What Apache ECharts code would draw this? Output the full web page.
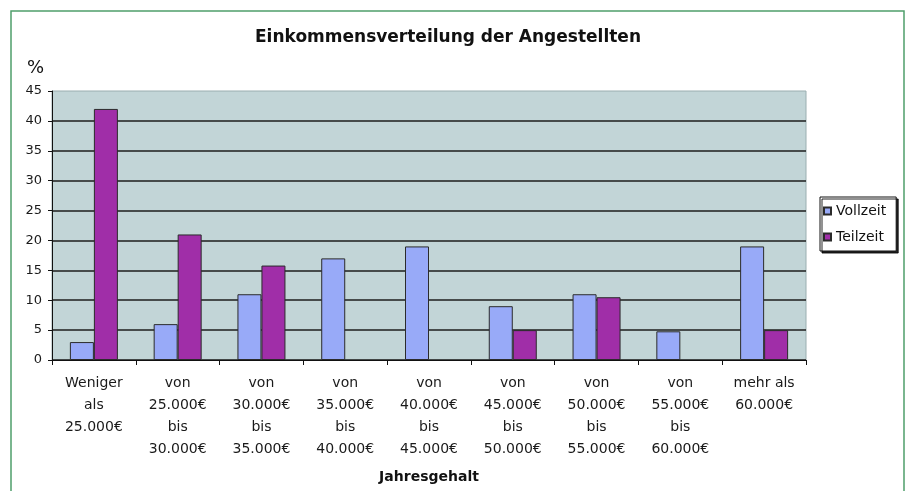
<!DOCTYPE html>
<html>
<head>
<meta charset="utf-8">
<script src="https://cdn.jsdelivr.net/npm/echarts@6/dist/echarts.min.js"></script>
<style>
  html, body { margin: 0; padding: 0; background: #ffffff; }
  #chart { width: 908px; height: 491px; }
</style>
</head>
<body>
<div id="chart"></div>
<script>
// Income brackets (annual salary) and share of employees in percent
var categories = [
  'Weniger\nals\n25.000€',
  'von\n25.000€\nbis\n30.000€',
  'von\n30.000€\nbis\n35.000€',
  'von\n35.000€\nbis\n40.000€',
  'von\n40.000€\nbis\n45.000€',
  'von\n45.000€\nbis\n50.000€',
  'von\n50.000€\nbis\n55.000€',
  'von\n55.000€\nbis\n60.000€',
  'mehr als\n60.000€'
];
var vollzeit = [3, 6, 11, 17, 19, 9, 11, 4.8, 19];
var teilzeit = [42, 21, 15.8, 0, 0, 5, 10.5, 0, 5];
var seriesNames = ['Vollzeit', 'Teilzeit'];
var yTicks = { min: 0, max: 45, interval: 5 };

var FONT = 'DejaVu Sans';
var chart = echarts.init(document.getElementById('chart'), null, { renderer: 'canvas' });

// a share of 0 % gets no visible column at all
var asBars = function (values) {
  return values.map(function (v) { return v === 0 ? '-' : v; });
};
var barStyle = function (color) {
  return { color: color, borderColor: '#2b2b2b', borderWidth: 1 };
};

chart.setOption({
  animation: false,
  backgroundColor: '#ffffff',
  title: [
    {
      text: 'Einkommensverteilung der Angestellten',
      left: 443, top: 24, textAlign: 'center',
      textStyle: { fontFamily: FONT, fontSize: 17, fontWeight: 'bold', color: '#111' }
    },
    {
      text: '%',
      left: 22, top: 54,
      textStyle: { fontFamily: FONT, fontSize: 18, fontWeight: 'normal', color: '#111' }
    }
  ],
  graphic: [
    {
      type: 'rect', silent: true, z: -1,
      shape: { x: 11, y: 11, width: 893, height: 490 },
      style: { fill: 'none', stroke: '#4f9f6b', lineWidth: 1.5 }
    }
  ],
  legend: {
    orient: 'vertical',
    left: 820, top: 197,
    data: seriesNames,
    icon: 'rect',
    itemWidth: 7, itemHeight: 7, itemGap: 10,
    padding: [6, 10, 6, 3],
    backgroundColor: '#ffffff',
    borderColor: '#111', borderWidth: 1,
    shadowColor: 'rgba(0,0,0,0.85)', shadowBlur: 0, shadowOffsetX: 2, shadowOffsetY: 2,
    textStyle: { fontFamily: FONT, fontSize: 14, color: '#111', lineHeight: 16 }
  },
  grid: {
    left: 52, right: 102, top: 91, bottom: 131,
    show: true, backgroundColor: '#c2d5d7', borderColor: '#9aaeb0', borderWidth: 1
  },
  xAxis: {
    type: 'category',
    data: categories,
    name: 'Jahresgehalt',
    nameLocation: 'middle',
    nameGap: 110,
    nameTextStyle: { fontFamily: FONT, fontSize: 14, fontWeight: 'bold', color: '#111' },
    axisLine: { lineStyle: { color: '#111', width: 1 } },
    axisTick: { show: true, length: 5, lineStyle: { color: '#111' } },
    axisLabel: {
      interval: 0, margin: 12,
      fontFamily: FONT, fontSize: 14, color: '#1a1a1a', lineHeight: 22
    }
  },
  yAxis: {
    type: 'value',
    min: yTicks.min, max: yTicks.max, interval: yTicks.interval,
    axisLine: { show: true, lineStyle: { color: '#111', width: 1 } },
    axisTick: { show: true, length: 4, lineStyle: { color: '#111' } },
    axisLabel: { margin: 10, fontFamily: FONT, fontSize: 13, color: '#1a1a1a' },
    splitLine: { show: true, showMaxLine: false, lineStyle: { color: '#1c1c1c', width: 1.6 } }
  },
  series: [
    {
      name: seriesNames[0], type: 'bar', data: asBars(vollzeit),
      barWidth: 24, barGap: '0%',
      itemStyle: barStyle('#98aaf8')
    },
    {
      name: seriesNames[1], type: 'bar', data: asBars(teilzeit),
      barWidth: 24, barGap: '0%',
      itemStyle: barStyle('#a02ea8')
    }
  ]
});
</script>
</body>
</html>
